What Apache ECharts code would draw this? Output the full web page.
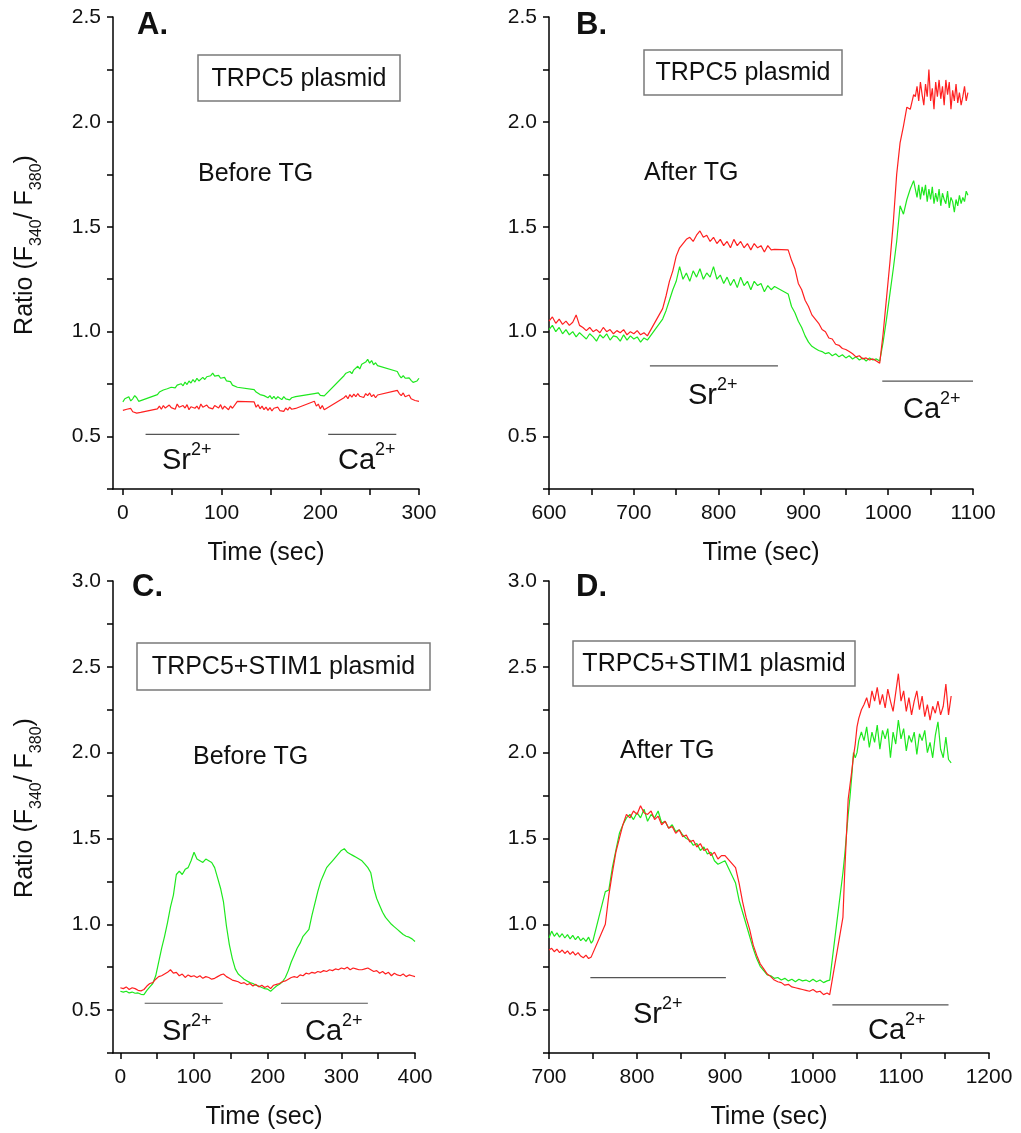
<!DOCTYPE html>
<html>
<head>
<meta charset="utf-8">
<title>Fura-2 ratio traces, TRPC5 / TRPC5+STIM1</title>
<script src="https://cdn.jsdelivr.net/npm/echarts@6/dist/echarts.min.js"></script>
<style>
  html, body { margin: 0; padding: 0; background: #fff; }
  #chart { width: 1021px; height: 1133px; }
</style>
</head>
<body>
<div id="chart"></div>
<script>
// ---- values (time in sec, ratio F340/F380) ----

// panel A : TRPC5, before TG
const timeA = [0, 2, 4, 6, 8, 10, 12, 14, 16, 18,
  35, 37, 39, 41, 43, 45, 47, 49, 51, 53, 55, 57, 59, 61, 63, 65, 67, 69, 71, 73,
  75, 77, 79, 81, 83, 85, 87, 89, 91, 93, 95, 97, 99, 101, 103, 105, 107, 109, 111, 113,
  116,
  133, 135, 137, 139, 141, 143, 145, 147, 149, 151, 153, 155, 157, 159, 161, 163, 165, 167, 169, 171, 173, 175, 177,
  194, 196, 198, 200, 202, 204, 206,
  224, 226, 228, 230, 232, 234, 236, 238, 240, 242, 244, 246, 248, 250, 252, 254, 256, 258, 260,
  278, 280, 282, 284, 286, 288, 290, 292, 294, 296, 298, 300];
const redA = [0.625, 0.618, 0.63, 0.622, 0.634, 0.618, 0.626, 0.612, 0.605, 0.615,
  0.632, 0.645, 0.630, 0.648, 0.636, 0.628, 0.650, 0.638, 0.645, 0.630, 0.655, 0.640, 0.632, 0.648, 0.636, 0.652, 0.628, 0.642, 0.650, 0.635,
  0.645, 0.630, 0.655, 0.640, 0.634, 0.650, 0.638, 0.645, 0.632, 0.648, 0.640, 0.636, 0.652, 0.630, 0.645, 0.638, 0.628, 0.646, 0.635, 0.640,
  0.668,
  0.665, 0.640, 0.652, 0.632, 0.645, 0.628, 0.640, 0.625, 0.638, 0.622, 0.635, 0.628, 0.640, 0.624, 0.632, 0.620, 0.636, 0.626, 0.640, 0.630, 0.622, 0.634, 0.628,
  0.668, 0.645, 0.655, 0.632, 0.648, 0.628, 0.622,
  0.685, 0.695, 0.680, 0.700, 0.688, 0.702, 0.690, 0.705, 0.692, 0.700, 0.686, 0.705, 0.695, 0.708, 0.690, 0.700, 0.685, 0.698, 0.690,
  0.720, 0.705, 0.695, 0.708, 0.690, 0.682, 0.698, 0.680, 0.688, 0.672, 0.680, 0.668];
const greenA = [0.665, 0.68, 0.675, 0.69, 0.67, 0.68, 0.695, 0.685, 0.668, 0.672,
  0.700, 0.712, 0.705, 0.722, 0.715, 0.728, 0.720, 0.735, 0.726, 0.732, 0.745, 0.738, 0.752, 0.742, 0.760, 0.748, 0.765, 0.755, 0.772, 0.760,
  0.778, 0.765, 0.770, 0.782, 0.772, 0.785, 0.776, 0.790, 0.802, 0.788, 0.782, 0.792, 0.778, 0.770, 0.782, 0.765, 0.758, 0.762, 0.745, 0.748,
  0.735,
  0.724, 0.712, 0.718, 0.700, 0.708, 0.695, 0.702, 0.685, 0.695, 0.680, 0.692, 0.678, 0.690, 0.682, 0.676, 0.690, 0.680, 0.688, 0.675, 0.685, 0.678, 0.690, 0.686,
  0.705, 0.698, 0.708, 0.696, 0.702, 0.694, 0.688,
  0.790, 0.802, 0.795, 0.810, 0.800, 0.818, 0.825, 0.835, 0.822, 0.845, 0.838, 0.855, 0.868, 0.850, 0.862, 0.842, 0.852, 0.838, 0.845,
  0.810, 0.792, 0.780, 0.790, 0.778, 0.772, 0.780, 0.768, 0.758, 0.752, 0.765, 0.778];

// panel B : TRPC5, after TG
const timeB = [600, 604, 608, 612, 616, 620, 624, 628, 632, 636, 640, 644, 648, 652, 656, 660, 664, 668, 672, 676,
  680, 684, 688, 692, 696, 700, 704, 708, 712, 716,
  734, 738, 742, 746, 750, 754, 758, 762, 766, 770, 774, 778, 782, 786, 790, 794, 798, 802, 806, 810,
  814, 818, 822, 826, 830, 834, 838, 842, 846, 850, 854, 858, 862, 866,
  882, 886, 890, 894, 898, 902, 906, 910, 914, 918, 922, 926, 930, 934, 938, 942, 946, 950, 954, 958,
  962, 966, 970, 974, 978, 982, 986, 990,
  994, 998, 1002, 1006, 1010, 1014, 1018, 1022, 1026, 1030,
  1032, 1034, 1036, 1038, 1040, 1042, 1044, 1046, 1048, 1050, 1052, 1054, 1056, 1058, 1060, 1062,
  1064, 1066, 1068, 1070, 1072, 1074, 1076, 1078, 1080, 1082, 1084, 1086, 1088, 1090, 1092, 1094];
const redB = [1.05, 1.07, 1.04, 1.06, 1.035, 1.05, 1.03, 1.045, 1.08, 1.03, 1.02, 1.005, 1.02, 1.0, 1.01, 0.995, 1.02, 1.0, 1.01, 0.99,
  1.005, 0.995, 1.01, 0.985, 1.0, 0.99, 1.005, 0.985, 0.995, 0.98,
  1.11, 1.17, 1.24, 1.29, 1.36, 1.40, 1.42, 1.44, 1.45, 1.43, 1.46, 1.48, 1.45, 1.46, 1.43, 1.45, 1.42, 1.44, 1.41, 1.43,
  1.40, 1.44, 1.41, 1.43, 1.40, 1.42, 1.39, 1.42, 1.40, 1.41, 1.38, 1.41, 1.39, 1.392,
  1.39, 1.34, 1.30, 1.23, 1.20, 1.15, 1.12, 1.08, 1.06, 1.04, 1.01, 1.00, 0.97, 0.965, 0.94, 0.935, 0.92, 0.915, 0.905, 0.895,
  0.88, 0.885, 0.87, 0.875, 0.865, 0.87, 0.86, 0.85,
  0.99, 1.16, 1.33, 1.52, 1.75, 1.90, 1.98, 2.07, 2.06, 2.13,
  2.12, 2.17, 2.10, 2.19, 2.13, 2.08, 2.18, 2.12, 2.25, 2.10, 2.16, 2.06, 2.19, 2.12, 2.20, 2.11,
  2.17, 2.08, 2.20, 2.13, 2.19, 2.06, 2.15, 2.10, 2.18, 2.09, 2.14, 2.08, 2.12, 2.17, 2.10, 2.14];
const greenB = [1.01, 1.03, 1.0, 1.02, 0.99, 1.01, 0.985, 1.0, 0.975, 0.995, 0.98, 0.965, 0.99, 0.975, 0.955, 0.985, 0.97, 0.99, 0.96, 0.98,
  0.975, 0.955, 0.985, 0.96, 0.98, 0.965, 0.975, 0.95, 0.97, 0.96,
  1.06, 1.10, 1.15, 1.20, 1.24, 1.31, 1.25, 1.28, 1.24, 1.29, 1.26, 1.30, 1.25, 1.28, 1.26, 1.31, 1.25, 1.27, 1.23, 1.26,
  1.22, 1.25, 1.21, 1.26, 1.22, 1.24, 1.20, 1.24, 1.22, 1.23, 1.19, 1.22, 1.20, 1.215,
  1.18, 1.12, 1.09, 1.05, 1.02, 0.98, 0.95, 0.93, 0.92, 0.91, 0.905, 0.895, 0.90, 0.885, 0.895, 0.88, 0.89, 0.875, 0.885, 0.87,
  0.88, 0.865, 0.875, 0.86, 0.875, 0.865, 0.87, 0.86,
  0.95, 1.06, 1.18, 1.30, 1.43, 1.60, 1.56, 1.63, 1.68, 1.72,
  1.68, 1.64, 1.70, 1.63, 1.69, 1.65, 1.70, 1.62, 1.68, 1.63, 1.69, 1.61, 1.66, 1.62, 1.68, 1.60,
  1.66, 1.63, 1.61, 1.67, 1.59, 1.64, 1.62, 1.57, 1.63, 1.60, 1.65, 1.61, 1.64, 1.62, 1.67, 1.65];

// panel C : TRPC5+STIM1, before TG
const timeC = [0, 4, 8, 12, 16, 20, 24, 28, 32, 36, 40, 44, 48, 52, 56, 60, 64, 68, 72, 76,
  80, 84, 88, 92, 96, 100, 104, 108, 112, 116, 120, 124, 128, 132, 136, 140, 144, 148, 152, 156,
  160, 164, 168, 172, 176, 180, 184, 188, 192, 196, 200, 204, 208, 212, 216, 220, 224, 228, 232, 236,
  240, 244, 248, 252, 256, 260, 264, 268, 272, 276, 280, 284, 288, 292, 296, 300, 304, 308, 312, 316,
  320, 324, 328, 332, 336, 340, 344, 348, 352, 356, 360, 364, 368, 372, 376, 380, 384, 388, 392, 396, 400];
const redC = [0.63, 0.625, 0.635, 0.62, 0.63, 0.625, 0.615, 0.612, 0.62, 0.64,
  0.655, 0.66, 0.68, 0.695, 0.70, 0.71, 0.72, 0.735, 0.715, 0.72,
  0.70, 0.71, 0.69, 0.705, 0.695, 0.70, 0.69, 0.70, 0.685, 0.695,
  0.69, 0.68, 0.685, 0.695, 0.705, 0.71, 0.695, 0.685, 0.675, 0.67,
  0.665, 0.655, 0.66, 0.648, 0.655, 0.64, 0.65, 0.635, 0.645, 0.632,
  0.64, 0.625, 0.645, 0.65, 0.655, 0.665, 0.67, 0.68, 0.69, 0.695,
  0.69, 0.705, 0.70, 0.715, 0.71, 0.72, 0.715, 0.725, 0.72, 0.73,
  0.725, 0.735, 0.73, 0.74, 0.735, 0.745, 0.74, 0.75, 0.735, 0.745,
  0.74, 0.735, 0.735, 0.74, 0.745, 0.735, 0.725, 0.73, 0.715, 0.725,
  0.71, 0.72, 0.70, 0.715, 0.705, 0.70, 0.71, 0.695, 0.705, 0.70,
  0.695];
const greenC = [0.61, 0.605, 0.61, 0.60, 0.605, 0.598, 0.60, 0.592, 0.59, 0.615,
  0.635, 0.655, 0.70, 0.78, 0.86, 0.93, 1.01, 1.10, 1.17, 1.29,
  1.31, 1.29, 1.32, 1.33, 1.37, 1.42, 1.38, 1.37, 1.36, 1.38,
  1.37, 1.36, 1.33, 1.27, 1.21, 1.13, 0.99, 0.88, 0.80, 0.74,
  0.71, 0.695, 0.68, 0.67, 0.66, 0.655, 0.645, 0.64, 0.632, 0.625,
  0.622, 0.61, 0.625, 0.64, 0.65, 0.665, 0.69, 0.73, 0.78, 0.82,
  0.86, 0.89, 0.93, 0.95, 0.97, 1.05, 1.12, 1.19, 1.25, 1.29,
  1.33, 1.35, 1.37, 1.39, 1.41, 1.43, 1.44, 1.42, 1.41, 1.40,
  1.39, 1.38, 1.37, 1.35, 1.33, 1.30, 1.21, 1.15, 1.11, 1.07,
  1.04, 1.02, 1.00, 0.985, 0.97, 0.955, 0.94, 0.93, 0.925, 0.915,
  0.90];

// panel D : TRPC5+STIM1, after TG
const timeD = [700, 703, 706, 709, 712, 715, 718, 721, 724, 727, 730, 733, 736, 739, 742, 745, 748, 750,
  764, 768, 772, 776, 780, 784, 788, 792, 796, 800, 804, 808, 812, 816, 820, 824, 828, 832,
  836, 840, 844, 848, 852, 856, 860, 864, 868, 872, 876, 880, 884, 888, 892, 896, 900,
  912, 916, 920, 924, 928, 932, 936, 940, 944, 948, 952, 956, 960, 964, 968, 972, 976, 980,
  984, 988, 992, 996, 1000, 1004, 1008, 1012, 1016, 1019,
  1034, 1036, 1038, 1040, 1042, 1044, 1046, 1048, 1050, 1052,
  1055, 1058, 1061, 1064, 1067, 1070, 1073, 1076, 1079, 1082, 1085, 1088, 1091, 1094, 1097, 1100, 1103,
  1106, 1109, 1112, 1115, 1118, 1121, 1124, 1127, 1130, 1133, 1136, 1139, 1142, 1145, 1148, 1151, 1154, 1157];
const redD = [0.85, 0.86, 0.84, 0.855, 0.835, 0.85, 0.83, 0.845, 0.825, 0.84, 0.82, 0.835, 0.815, 0.805, 0.82, 0.80, 0.81, 0.805,
  1.00, 1.17, 1.30, 1.42, 1.50, 1.58, 1.64, 1.62, 1.66, 1.64, 1.69, 1.65, 1.64, 1.66, 1.61, 1.63, 1.58, 1.60,
  1.56, 1.57, 1.53, 1.55, 1.51, 1.52, 1.48, 1.49, 1.45, 1.47, 1.43, 1.44, 1.40, 1.42, 1.38, 1.40, 1.40,
  1.33, 1.24, 1.13, 1.04, 0.97, 0.88, 0.82, 0.77, 0.74, 0.71, 0.695, 0.675, 0.665, 0.66, 0.645, 0.65, 0.635, 0.63,
  0.625, 0.62, 0.615, 0.61, 0.62, 0.605, 0.61, 0.59, 0.60, 0.59,
  1.04, 1.30, 1.52, 1.73, 1.81, 1.89, 1.98, 2.05, 2.15, 2.20,
  2.25, 2.28, 2.32, 2.26, 2.36, 2.30, 2.38, 2.28, 2.34, 2.26, 2.37, 2.30, 2.24, 2.35, 2.46, 2.30, 2.36,
  2.24, 2.32, 2.22, 2.30, 2.36, 2.25, 2.33, 2.21, 2.28, 2.19, 2.27, 2.23, 2.30, 2.22, 2.27, 2.40, 2.22, 2.33];
const greenD = [0.92, 0.96, 0.93, 0.95, 0.925, 0.945, 0.92, 0.94, 0.915, 0.935, 0.91, 0.93, 0.905, 0.92, 0.90, 0.925, 0.89, 0.905,
  1.19, 1.20, 1.33, 1.43, 1.53, 1.58, 1.62, 1.64, 1.61, 1.65, 1.62, 1.67, 1.60, 1.64, 1.62, 1.66, 1.59, 1.60,
  1.56, 1.58, 1.54, 1.55, 1.52, 1.50, 1.49, 1.46, 1.47, 1.43, 1.45, 1.41, 1.42, 1.37, 1.35, 1.36, 1.37,
  1.24, 1.14, 1.07, 1.00, 0.93, 0.86, 0.80, 0.755, 0.73, 0.705, 0.70, 0.685, 0.69, 0.675, 0.685, 0.67, 0.68, 0.665,
  0.68, 0.67, 0.675, 0.665, 0.68, 0.665, 0.675, 0.66, 0.67, 0.675,
  1.30, 1.40, 1.52, 1.64, 1.74, 1.86, 2.00, 1.97, 2.00, 2.07,
  2.12, 2.07, 2.15, 2.03, 2.12, 2.06, 2.16, 2.02, 2.13, 2.08, 2.14, 1.97, 2.12, 2.05, 2.19, 2.08, 2.14,
  2.01, 2.10, 2.06, 2.12, 1.99, 2.11, 2.07, 2.13, 2.00, 2.06, 1.97, 2.10, 2.18, 2.02, 1.97, 2.09, 1.96, 1.94];

// application bars (start, end, level)
const srBarA = [[23, 0.51], [118, 0.51]];
const caBarA = [[208, 0.51], [277, 0.51]];
const srBarB = [[719, 0.837], [870, 0.837]];
const caBarB = [[993, 0.764], [1100, 0.764]];
const srBarC = [[33, 0.54], [139, 0.54]];
const caBarC = [[218, 0.54], [336, 0.54]];
const srBarD = [[747, 0.689], [901, 0.689]];
const caBarD = [[1022, 0.53], [1154, 0.53]];

// axis ticks / labels
const xTicksA = [0, 50, 100, 150, 200, 250, 300];
const xLabelsA = [0, 100, 200, 300];
const xTicksB = [600, 650, 700, 750, 800, 850, 900, 950, 1000, 1050, 1100];
const xLabelsB = [600, 700, 800, 900, 1000, 1100];
const xTicksC = [0, 50, 100, 150, 200, 250, 300, 350, 400];
const xLabelsC = [0, 100, 200, 300, 400];
const xTicksD = [700, 750, 800, 850, 900, 950, 1000, 1050, 1100, 1150, 1200];
const xLabelsD = [700, 800, 900, 1000, 1100, 1200];

// ---- chart ----
const FONT = '"Liberation Sans", Arial, Helvetica, sans-serif';
const RED = '#ff2020';
const GREEN = '#1ee81e';
const INK = '#111';

function pairs(t, v) {
  if (t.length !== v.length) console.warn('length mismatch', t.length, v.length);
  return t.map((x, i) => [x, v[i]]);
}

const panels = [
  { grid: { left: 113, top: 17, width: 306, height: 472 }, xMin: -10, xMax: 300, ticks: xTicksA, labels: xLabelsA,
    yMax: 2.5, t: timeA, red: redA, green: greenA, bars: [srBarA, caBarA] },
  { grid: { left: 549, top: 17, width: 424, height: 472 }, xMin: 600, xMax: 1100, ticks: xTicksB, labels: xLabelsB,
    yMax: 2.5, t: timeB, red: redB, green: greenB, bars: [srBarB, caBarB] },
  { grid: { left: 113, top: 581, width: 302, height: 472 }, xMin: -10, xMax: 400, ticks: xTicksC, labels: xLabelsC,
    yMax: 3.0, t: timeC, red: redC, green: greenC, bars: [srBarC, caBarC] },
  { grid: { left: 549, top: 581, width: 440, height: 472 }, xMin: 700, xMax: 1200, ticks: xTicksD, labels: xLabelsD,
    yMax: 3.0, t: timeD, red: redD, green: greenD, bars: [srBarD, caBarD] }
];

const axisLine = { show: true, onZero: false, lineStyle: { color: '#000', width: 1.5 } };
const tickStyle = { color: '#000', width: 1.5 };

const grids = [], xAxes = [], yAxes = [], series = [];
panels.forEach((p, i) => {
  grids.push(Object.assign({ containLabel: false, outerBoundsMode: 'none' }, p.grid));
  xAxes.push({
    type: 'value', gridIndex: i, min: p.xMin, max: p.xMax,
    axisLine: axisLine,
    axisTick: { show: true, customValues: p.ticks, length: 6, lineStyle: tickStyle },
    axisLabel: { customValues: p.labels, margin: 14, fontSize: 21, fontFamily: FONT, color: INK,
      formatter: v => String(v) },
    splitLine: { show: false },
    name: 'Time (sec)', nameLocation: 'middle', nameGap: 52,
    nameTextStyle: { fontSize: 25, fontFamily: FONT, color: INK }
  });
  yAxes.push({
    type: 'value', gridIndex: i, min: 0.25, max: p.yMax, interval: 0.25,
    axisLine: axisLine,
    axisTick: { show: true, length: 6, lineStyle: tickStyle },
    axisLabel: {
      margin: 12, fontSize: 21, fontFamily: FONT, color: INK,
      formatter: v => (v >= 0.5 && Math.abs(v * 2 - Math.round(v * 2)) < 1e-6) ? v.toFixed(1) : ''
    },
    splitLine: { show: false }
  });
  p.bars.forEach(b => series.push({
    type: 'line', xAxisIndex: i, yAxisIndex: i, data: b, symbol: 'none', silent: true,
    lineStyle: { color: '#555', width: 1.2 }
  }));
  series.push({
    type: 'line', xAxisIndex: i, yAxisIndex: i, data: pairs(p.t, p.green), symbol: 'none', silent: true,
    lineStyle: { color: GREEN, width: 1.2 }, itemStyle: { color: GREEN }
  });
  series.push({
    type: 'line', xAxisIndex: i, yAxisIndex: i, data: pairs(p.t, p.red), symbol: 'none', silent: true,
    lineStyle: { color: RED, width: 1.2 }, itemStyle: { color: RED }
  });
});

// annotation helpers
function txt(x, y, text, size, opts) {
  return Object.assign({
    type: 'text', x: x, y: y, silent: true,
    style: { text: text, fill: INK, font: size + 'px ' + FONT, align: 'left', verticalAlign: 'middle' }
  }, opts || {});
}
function boxed(x, y, w, h, text) {
  return [
    { type: 'rect', silent: true, shape: { x: x, y: y, width: w, height: h },
      style: { fill: '#fff', stroke: '#7a7a7a', lineWidth: 1.5 } },
    { type: 'text', silent: true, x: x + w / 2, y: y + h / 2 + 1,
      style: { text: text, fill: INK, font: '25px ' + FONT, align: 'center', verticalAlign: 'middle' } }
  ];
}
// superscript: small token pinned to the top of a tall line
const ionRich = {
  m: { fontSize: 29, fontFamily: FONT, lineHeight: 40, fill: INK },
  s: { fontSize: 18, fontFamily: FONT, lineHeight: 16, verticalAlign: 'top', fill: INK }
};
function ion(x, y, name) {
  return { type: 'text', x: x, y: y, silent: true,
    style: { text: '{m|' + name + '}{s|2+}', rich: ionRich, align: 'left', verticalAlign: 'middle' } };
}
// subscript: small token pinned to the bottom of a tall line
const ratioRich = {
  m: { fontSize: 25, fontFamily: FONT, lineHeight: 40, fill: INK },
  s: { fontSize: 16, fontFamily: FONT, lineHeight: 16, verticalAlign: 'bottom', fill: INK }
};
function ratioTitle(x, y) {
  return { type: 'text', x: x, y: y, rotation: Math.PI / 2, silent: true,
    style: { text: '{m|Ratio (F}{s|340}{m|/ F}{s|380}{m|)}', rich: ratioRich, align: 'center', verticalAlign: 'middle' } };
}
function letter(x, y, s) {
  return { type: 'text', x: x, y: y, silent: true,
    style: { text: s, fill: INK, font: 'bold 31px ' + FONT, align: 'left', verticalAlign: 'middle' } };
}

const graphics = [].concat(
  letter(137, 25, 'A.'), letter(576, 25, 'B.'), letter(132, 587, 'C.'), letter(576, 587, 'D.'),
  boxed(198, 55, 202, 46, 'TRPC5 plasmid'),
  boxed(644, 50, 198, 45, 'TRPC5 plasmid'),
  boxed(137, 643, 293, 47, 'TRPC5+STIM1 plasmid'),
  boxed(573, 641, 282, 45, 'TRPC5+STIM1 plasmid'),
  txt(198, 174, 'Before TG', 25), txt(644, 173, 'After TG', 25),
  txt(193, 757, 'Before TG', 25), txt(620, 751, 'After TG', 25),
  ion(162, 461, 'Sr'), ion(338, 461, 'Ca'),
  ion(688, 396, 'Sr'), ion(903, 410, 'Ca'),
  ion(162, 1032, 'Sr'), ion(305, 1032, 'Ca'),
  ion(633, 1015, 'Sr'), ion(868, 1031, 'Ca'),
  ratioTitle(25, 245), ratioTitle(25, 808)
);

const chart = echarts.init(document.getElementById('chart'), null, { renderer: 'canvas' });
chart.setOption({
  backgroundColor: '#fff',
  animation: false,
  textStyle: { fontFamily: FONT },
  grid: grids,
  xAxis: xAxes,
  yAxis: yAxes,
  series: series,
  graphic: { elements: graphics }
});
</script>
</body>
</html>
